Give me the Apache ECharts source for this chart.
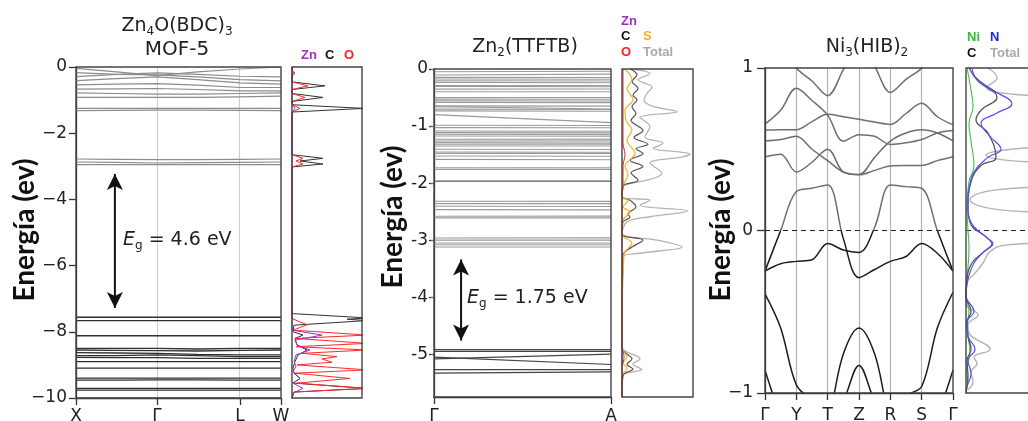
<!DOCTYPE html>
<html><head><meta charset="utf-8">
<script src="https://cdn.jsdelivr.net/npm/echarts@6/dist/echarts.min.js"></script>
<style>html,body{margin:0;padding:0;background:#fff}#c{width:1028px;height:421px}</style>
</head><body><div id="c"></div><script>
// ---------------- Panel 1 : Zn4O(BDC)3 / MOF-5 ----------------
const K1 = [0, 0.5, 1, 1.5, 2.025, 2.53];            // X, mid, Γ, mid, L, W
const K1_TICKS = [0, 1, 2.025, 2.53];
const K1_LABELS = ['X', 'Γ', 'L', 'W'];
const P1_COND = [
  [-0.04, -0.15, -0.26, -0.15, -0.06, 0.0],
  [-0.29, -0.22, -0.18, -0.22, -0.28, -0.30],
  [-0.17, -0.22, -0.24, -0.30, -0.38, -0.42],
  [-0.41, -0.35, -0.30, -0.38, -0.48, -0.52],
  [-0.54, -0.52, -0.50, -0.55, -0.62, -0.62],
  [-0.67, -0.66, -0.65, -0.68, -0.72, -0.72],
  [-0.78, -0.80, -0.82, -0.82, -0.80, -0.78],
  [-0.92, -0.92, -0.92, -0.92, -0.90, -0.88],
  [-1.25, -1.25, -1.25, -1.25, -1.25, -1.25],
  [-1.32, -1.31, -1.30, -1.30, -1.31, -1.32],
  [-2.78, -2.79, -2.80, -2.80, -2.79, -2.78],
  [-2.87, -2.88, -2.90, -2.89, -2.88, -2.87],
  [-2.95, -2.95, -2.95, -2.95, -2.95, -2.95]
];
const P1_VAL = [
  [-7.56, -7.56, -7.56, -7.56, -7.56, -7.56],
  [-7.66, -7.66, -7.66, -7.66, -7.66, -7.66],
  [-8.12, -8.12, -8.12, -8.12, -8.12, -8.12],
  [-8.50, -8.50, -8.50, -8.52, -8.50, -8.50],
  [-8.55, -8.56, -8.57, -8.58, -8.56, -8.55],
  [-8.63, -8.64, -8.65, -8.68, -8.70, -8.70],
  [-8.72, -8.72, -8.70, -8.72, -8.75, -8.75],
  [-8.77, -8.78, -8.78, -8.80, -8.80, -8.80],
  [-8.90, -8.90, -8.90, -8.90, -8.90, -8.90],
  [-9.10, -9.10, -9.10, -9.10, -9.10, -9.10],
  [-9.40, -9.40, -9.40, -9.40, -9.40, -9.40],
  [-9.46, -9.46, -9.45, -9.45, -9.46, -9.46],
  [-9.71, -9.71, -9.71, -9.71, -9.71, -9.71],
  [-9.76, -9.76, -9.76, -9.76, -9.76, -9.76]
];
const P1_ARROW = { k: 0.48, top: -3.23, bottom: -7.28 };
// DOS panel 1  [dos, energy]
const DOS1_C = [[0,0],[0,-0.45],[33,-0.57],[0,-0.68],[0,-0.8],[31,-0.92],[0,-1.04],[0,-1.14],[72,-1.25],[0,-1.36],[0,-2.65],[31,-2.76],[8,-2.84],[31,-2.93],[0,-3.02],[0,-7.45],[75,-7.58],[55,-7.62],[75,-7.66],[2,-7.8],[1,-8.0],[11,-8.1],[3,-8.2],[5,-8.4],[15,-8.55],[6,-8.7],[3,-8.9],[1,-9.1],[2,-9.25],[8,-9.41],[1,-9.55],[75,-9.71],[2,-9.82],[0,-10]];
const DOS1_O = [[0,0],[0,-0.1],[3,-0.19],[0,-0.28],[0,-0.45],[16,-0.57],[0,-0.68],[0,-0.8],[13,-0.92],[0,-1.04],[0,-1.14],[8,-1.25],[0,-1.36],[0,-2.65],[11,-2.76],[4,-2.84],[11,-2.93],[0,-3.02],[0,-7.6],[15,-7.79],[1,-7.95],[75,-8.1],[3,-8.2],[75,-8.35],[4,-8.45],[75,-8.55],[10,-8.65],[45,-8.75],[30,-8.82],[40,-8.92],[5,-9.0],[75,-9.15],[3,-9.25],[58,-9.41],[5,-9.55],[75,-9.71],[2,-9.82],[0,-10]];
const DOS1_ZN = [[0,0],[0,-0.1],[2,-0.19],[0,-0.28],[0,-1.14],[3,-1.25],[0,-1.36],[0,-7.95],[30,-8.1],[3,-8.25],[5,-8.4],[18,-8.55],[4,-8.7],[2,-8.9],[4,-9.05],[1,-9.2],[8,-9.41],[1,-9.55],[11,-9.71],[1,-9.85],[0,-10]];

// ---------------- Panel 2 : Zn2(TTFTB) ----------------
const K2 = [0, 1];
const P2_COND = [
  [-0.047,-0.04],[-0.106,-0.09],[-0.147,-0.15],[-0.176,-0.18],[-0.205,-0.21],[-0.235,-0.24],
  [-0.29,-0.29],[-0.305,-0.31],[-0.352,-0.35],[-0.399,-0.40],[-0.499,-0.50],[-0.528,-0.53],
  [-0.558,-0.56],[-0.587,-0.59],[-0.646,-0.65],[-0.66,-0.70],[-0.704,-0.71],[-0.734,-0.74],
  [-0.80,-0.94],[-0.986,-0.99],[-1.027,-1.03],[-1.086,-1.09],[-1.115,-1.12],[-1.144,-1.15],
  [-1.174,-1.18],[-1.232,-1.23],[-1.262,-1.26],[-1.291,-1.30],[-1.32,-1.32],[-1.35,-1.35],
  [-1.408,-1.41],[-1.455,-1.46],[-1.479,-1.48],[-1.526,-1.53],[-1.585,-1.59],[-1.73,-1.73],
  [-1.76,-1.76],[-2.318,-2.32],[-2.36,-2.36],[-2.406,-2.41],[-2.465,-2.47],[-2.582,-2.58],
  [-2.61,-2.61],[-2.963,-2.96],[-3.0,-3.0],[-3.05,-3.05],[-3.08,-3.08],[-3.12,-3.12]
];
const P2_DARK = [[-1.966,-1.966]];
const P2_VAL = [[-4.92,-4.92],[-4.95,-4.95],[-5.08,-5.0],[-5.05,-5.18],[-5.27,-5.27],[-5.33,-5.31]];
const P2_TICKS = [0, -1, -2, -3, -4, -5];
const P2_ARROW = { k: 0.153, top: -3.34, bottom: -4.76 };
const DOS2_TOTAL = [[8,0],[28,-0.08],[16,-0.19],[30,-0.32],[25,-0.43],[22,-0.55],[30,-0.65],[55,-0.75],[18,-0.85],[28,-1.01],[23,-1.19],[41,-1.30],[31,-1.39],[68,-1.49],[61,-1.54],[28,-1.65],[40,-1.83],[25,-1.95],[10,-2.0],[1,-2.06],[0,-2.24],[28,-2.30],[18,-2.39],[66,-2.49],[28,-2.59],[5,-2.68],[0,-2.88],[38,-3.01],[60,-3.12],[18,-3.23],[1,-3.29],[0,-4.87],[18,-5.08],[11,-5.17],[20,-5.27],[1,-5.37],[0,-5.75]];
const DOS2_C = [[8,0],[15,-0.1],[10,-0.22],[16,-0.34],[11,-0.46],[15,-0.54],[10,-0.66],[14,-0.78],[9,-0.9],[21,-1.08],[12,-1.2],[26,-1.32],[14,-1.4],[21,-1.48],[8,-1.6],[21,-1.71],[9,-1.82],[16,-1.95],[1,-2.05],[0,-2.24],[8,-2.3],[14,-2.42],[6,-2.54],[8,-2.6],[1,-2.68],[0,-2.9],[21,-3.0],[10,-3.12],[1,-3.27],[0,-4.9],[10,-5.08],[5,-5.18],[11,-5.26],[1,-5.37],[0,-5.75]];
const DOS2_S = [[3,0],[10,-0.19],[5,-0.34],[11,-0.54],[3,-0.72],[4,-0.9],[10,-1.07],[5,-1.25],[13,-1.48],[3,-1.7],[6,-1.85],[1,-2.05],[0,-2.24],[6,-2.30],[1,-2.42],[8,-2.5],[1,-2.65],[0,-2.9],[10,-3.05],[2,-3.25],[0,-4.9],[5,-5.05],[1,-5.15],[5,-5.25],[0,-5.37],[0,-5.75]];
const DOS2_O = [[1,0],[1,-1.3],[3,-1.5],[1,-1.7],[1,-2.1],[0,-2.2],[0,-5.75]];
const DOS2_ZN = [[0,-4.9],[2,-5.05],[0,-5.2]];

// ---------------- Panel 3 : Ni3(HIB)2 ----------------
const K3 = [0, 0.5, 1, 1.5, 2, 2.5, 3, 3.5, 4, 4.5, 5, 5.5, 6];
const K3_LABELS = ['Γ', 'Y', 'T', 'Z', 'R', 'S', 'Γ'];
const P3_BANDS = [
  [1.40, 1.15, 1.00, 0.92, 0.83, 0.99, 1.15, 1.01, 0.85, 0.93, 1.00, 1.15, 1.40],
  [0.655, 0.74, 0.875, 0.80, 0.71, 0.55, 0.59, 0.58, 0.53, 0.54, 0.56, 0.60, 0.615],
  [0.618, 0.62, 0.62, 0.67, 0.715, 0.70, 0.684, 0.668, 0.653, 0.72, 0.783, 0.70, 0.65],
  [0.551, 0.56, 0.58, 0.50, 0.43, 0.36, 0.345, 0.45, 0.55, 0.60, 0.62, 0.60, 0.551],
  [0.454, 0.47, 0.36, 0.42, 0.50, 0.36, 0.343, 0.37, 0.397, 0.40, 0.40, 0.43, 0.454],
  [-0.25, 0.0, 0.24, 0.26, 0.28, -0.05, -0.29, -0.24, -0.19, -0.16, -0.08, -0.14, -0.25],
  [-0.25, -0.205, -0.19, -0.18, -0.08, -0.12, -0.135, 0.02, 0.28, 0.27, 0.26, 0.0, -0.25],
  [-0.39, -0.60, -0.95, -1.05, -1.2, -1.3, -1.35, -1.3, -1.2, -1.02, -0.96, -0.60, -0.38],
  [-1.5, -1.4, -1.3, -1.25, -1.15, -0.76, -0.60, -0.76, -1.15, -1.25, -1.3, -1.4, -1.5],
  [-1.5, -1.4, -1.3, -1.25, -1.2, -1.05, -0.83, -1.05, -1.2, -1.25, -1.3, -1.4, -1.5],
  [-0.86, -1.15, -1.4, -1.5, -1.5, -1.5, -1.5, -1.5, -1.5, -1.5, -1.4, -1.15, -0.86]
];
const DOS3_TOTAL = [[22,1.0],[31,0.94],[21,0.88],[45,0.84],[150,0.80],[150,0.56],[45,0.50],[20,0.465],[45,0.43],[150,0.39],[150,0.30],[30,0.25],[4,0.19],[30,0.13],[150,0.08],[150,-0.05],[40,-0.09],[24,-0.13],[17,-0.2],[8,-0.27],[1,-0.32],[0,-0.45],[12,-0.52],[2,-0.58],[3,-0.63],[24,-0.73],[8,-0.78],[11,-0.82],[5,-0.87],[7,-0.93],[2,-0.98]];
const DOS3_N = [[6,1.0],[10,0.94],[28,0.86],[46,0.78],[30,0.72],[15,0.66],[24,0.58],[35,0.50],[22,0.45],[8,0.36],[3,0.25],[2,0.15],[5,0.05],[22,-0.05],[27,-0.08],[18,-0.13],[8,-0.2],[2,-0.3],[0,-0.4],[8,-0.5],[1,-0.56],[2,-0.65],[9,-0.73],[2,-0.8],[5,-0.88],[1,-0.95]];
const DOS3_C = [[3,1.0],[12,0.92],[31,0.82],[15,0.74],[10,0.68],[22,0.60],[30,0.45],[15,0.40],[5,0.3],[2,0.15],[4,0.05],[22,-0.05],[26,-0.08],[18,-0.13],[6,-0.2],[1,-0.3],[0,-0.4],[5,-0.5],[1,-0.56],[2,-0.65],[5,-0.73],[1,-0.8],[2,-0.9],[0,-1.0]];
const DOS3_NI = [[1,1.0],[4,0.9],[7,0.76],[3,0.66],[5,0.55],[8,0.40],[3,0.30],[1,0.15],[2,0.0],[3,-0.1],[1,-0.3],[0,-0.4],[3,-0.5],[1,-0.6],[4,-0.75],[1,-0.85],[2,-0.95]];

// ---------------- build ----------------
const FONT = 'DejaVu Sans, Liberation Sans, sans-serif';
const LFONT = 'Liberation Sans, Arial, sans-serif';
const AX = '#333';
const minus = v => (v < 0 ? '\u2212' + Math.abs(v) : String(v));

const GRIDS = [
  { left: 76, top: 67, width: 205, height: 331 },
  { left: 292, top: 67, width: 70, height: 331 },
  { left: 434, top: 69, width: 177, height: 328 },
  { left: 622, top: 69, width: 71, height: 328 },
  { left: 765, top: 68, width: 188, height: 325 },
  { left: 966, top: 68, width: 100, height: 325 }
];
const grids = GRIDS.map(g => Object.assign({ show: true, z: 4, containLabel: false, outerBoundsMode: 'none',
  borderColor: '#444', borderWidth: 1.4, backgroundColor: 'transparent' }, g));

const lblBase = { fontFamily: FONT, fontSize: 17, color: '#222' };
const xLine = { onZero: false, lineStyle: { color: AX, width: 1.3 } };
const xAxes = [
  { gridIndex: 0, type: 'value', min: 0, max: 2.53, splitLine: { show: false }, axisLine: xLine,
    axisTick: { customValues: K1_TICKS, length: 7, lineStyle: { color: AX, width: 1.3 } },
    axisLabel: Object.assign({ customValues: K1_TICKS, margin: 10, formatter: v => K1_LABELS[K1_TICKS.indexOf(v)] || '' }, lblBase) },
  { gridIndex: 1, type: 'value', min: 0, max: 70, show: false },
  { gridIndex: 2, type: 'value', min: 0, max: 1, splitLine: { show: false }, axisLine: xLine,
    axisTick: { customValues: [0, 1], length: 7, lineStyle: { color: AX, width: 1.3 } },
    axisLabel: Object.assign({ customValues: [0, 1], margin: 11, formatter: v => (v === 0 ? 'Γ' : 'A') }, lblBase) },
  { gridIndex: 3, type: 'value', min: 0, max: 71, show: false },
  { gridIndex: 4, type: 'value', min: 0, max: 6, interval: 1, splitLine: { show: false }, axisLine: xLine,
    axisTick: { length: 7, lineStyle: { color: AX, width: 1.3 } },
    axisLabel: Object.assign({ margin: 14, formatter: v => K3_LABELS[Math.round(v)] }, lblBase) },
  { gridIndex: 5, type: 'value', min: 0, max: 100, show: false }
];
const yAxes = [
  { gridIndex: 0, type: 'value', min: -10, max: 0, interval: 2, splitLine: { show: false },
    axisLine: { onZero: false, lineStyle: { color: AX, width: 1.3 } },
    axisTick: { length: 7, lineStyle: { color: AX, width: 1.3 } },
    axisLabel: Object.assign({ margin: 9, formatter: minus }, lblBase) },
  { gridIndex: 1, type: 'value', min: -10, max: 0, show: false },
  { gridIndex: 2, type: 'value', min: -5.75, max: 0, splitLine: { show: false },
    axisLine: { onZero: false, lineStyle: { color: AX, width: 1.3 } },
    axisTick: { customValues: P2_TICKS, length: 5, lineStyle: { color: AX, width: 1.3 } },
    axisLabel: Object.assign({ customValues: P2_TICKS, margin: 6 }, lblBase) },
  { gridIndex: 3, type: 'value', min: -5.75, max: 0, show: false },
  { gridIndex: 4, type: 'value', min: -1, max: 1, interval: 1, splitLine: { show: false },
    axisLine: { onZero: false, lineStyle: { color: AX, width: 1.3 } },
    axisTick: { length: 8, lineStyle: { color: AX, width: 1.3 } },
    axisLabel: Object.assign({ margin: 12, formatter: minus }, lblBase) },
  { gridIndex: 5, type: 'value', min: -1, max: 1, show: false },
  { gridIndex: 2, type: 'value', min: -5.75, max: 0, position: 'right', splitLine: { show: false },
    axisLine: { show: false }, axisLabel: { show: false },
    axisTick: { inside: true, customValues: P2_TICKS, length: 3, lineStyle: { color: '#777', width: 1 } } }
];

const series = [];
function band(ai, ks, vals, color, width, extra) {
  series.push(Object.assign({ type: 'line', xAxisIndex: ai, yAxisIndex: ai, symbol: 'none', silent: true, clip: true,
    data: ks.map((k, i) => [k, vals[i]]), lineStyle: { color: color, width: width } }, extra || {}));
}
function dos(ai, pts, color, width, smooth, extra) {
  series.push(Object.assign({ type: 'line', xAxisIndex: ai, yAxisIndex: ai, symbol: 'none', silent: true, clip: true,
    smooth: smooth, data: pts, lineStyle: { color: color, width: width } }, extra || {}));
}
function arrow(ai, a) {
  series.push({ type: 'line', xAxisIndex: ai, yAxisIndex: ai, silent: true, clip: false, z: 5,
    lineStyle: { color: '#111', width: 2 }, itemStyle: { color: '#111' },
    showSymbol: true, symbol: 'arrow', symbolSize: [12, 16],
    data: [{ value: [a.k, a.top], symbolRotate: 0 }, { value: [a.k, a.bottom], symbolRotate: 180 }] });
}
const mark = (data, color, type, z) => ({ silent: true, symbol: 'none', label: { show: false }, z: z || 1,
  lineStyle: { color: color, width: 1.2, type: type }, data: data });

// panel 1
P1_COND.forEach((b, i) => band(0, K1, b, '#8c8c8c', 1.2,
  i === 0 ? { markLine: mark([{ xAxis: 1 }, { xAxis: 2.025 }], '#cfcfcf', 'solid') } : null));
P1_VAL.forEach(b => band(0, K1, b, '#303030', 1.3));
arrow(0, P1_ARROW);
dos(1, DOS1_C, '#333', 1, false);
dos(1, DOS1_O, '#ff2a2a', 1, false);
dos(1, DOS1_ZN, '#a030c0', 1, false);
// panel 2
P2_COND.forEach(b => band(2, K2, b, '#9a9a9a', 1.1));
P2_DARK.forEach(b => band(2, K2, b, '#555', 1.3));
P2_VAL.forEach(b => band(2, K2, b, '#444', 1.2));
arrow(2, P2_ARROW);
dos(3, DOS2_TOTAL, '#b4b4b4', 1.3, 0.35);
dos(3, DOS2_C, '#555', 1.2, 0.35);
dos(3, DOS2_S, '#f6b21c', 1.2, 0.35);
dos(3, DOS2_O, '#e02020', 1, 0.35);
dos(3, DOS2_ZN, '#a030c0', 1, 0.35);
// panel 3 : bands grey above E=0, black below (gradient in screen space)
const g3 = GRIDS[4];
const splitColor = (up, down) => ({ type: 'linear', global: true, x: 0, y: g3.top, x2: 0, y2: g3.top + g3.height,
  colorStops: [{ offset: 0, color: up }, { offset: 0.499, color: up }, { offset: 0.501, color: down }, { offset: 1, color: down }] });
P3_BANDS.forEach((b, i) => band(4, K3, b, splitColor('#6e6e6e', '#1c1c1c'), 1.5, Object.assign({ smooth: 0.35 },
  i === 0 ? { markLine: mark([1, 2, 3, 4, 5].map(v => ({ xAxis: v })), '#b4b4b4', 'solid') } : {},
  i === 1 ? { markLine: mark([{ yAxis: 0 }], '#222', [5, 4], 3) } : {})));
dos(5, DOS3_TOTAL, '#b4b4b4', 1.4, 0.45);
dos(5, DOS3_NI, '#3cc43c', 1.1, 0.45);
dos(5, DOS3_C, '#555', 1.3, 0.45);
dos(5, DOS3_N, '#5050ff', 1.2, 0.45, { markLine: mark([{ yAxis: 0 }], '#222', [5, 4], 3) });

// ---------------- texts ----------------
const T = (x, y, text, opts) => ({ type: 'text', x: x, y: y, silent: true, z: 10,
  style: Object.assign({ text: text, fontFamily: FONT, fontSize: 19, fill: '#222', align: 'center', verticalAlign: 'middle' }, opts || {}) });
const subRich = { a: { fontFamily: FONT, fontSize: 19, fill: '#222' }, s: { fontFamily: FONT, fontSize: 12, fill: '#222', padding: [12, 0, 0, 0] },
  i: { fontFamily: FONT, fontSize: 19, fontStyle: 'italic', fill: '#222' } };
const yName = (x, y) => ({ type: 'text', x: x, y: y, rotation: Math.PI / 2, silent: true, z: 10,
  style: { text: 'Energía (ev)', fontFamily: 'Lato, Open Sans, sans-serif', fontWeight: 'bold', fontSize: 28, fill: '#111', align: 'center', verticalAlign: 'middle' } });
const L = (x, y, text, color) => T(x, y, text, { fontFamily: LFONT, fontSize: 13, fontWeight: 'bold', fill: color, align: 'left' });

const graphic = [
  T(177, 26, '{a|Zn}{s|4}{a|O(BDC)}{s|3}', { rich: subRich }),
  T(177, 50, 'MOF-5', { fontSize: 20 }),
  T(525, 47, '{a|Zn}{s|2}{a|(TTFTB)}', { rich: subRich }),
  T(867, 47, '{a|Ni}{s|3}{a|(HIB)}{s|2}', { rich: subRich }),
  T(123, 240, '{i|E}{s|g}{a| = 4.6 eV}', { rich: subRich, align: 'left' }),
  T(467, 298, '{i|E}{s|g}{a| = 1.75 eV}', { rich: subRich, align: 'left' }),
  yName(25, 230), yName(393, 217), yName(721, 230),
  L(301, 55, 'Zn', '#a030c0'), L(325, 55, 'C', '#111'), L(344, 55, 'O', '#ff2020'),
  L(621, 21, 'Zn', '#a030c0'), L(621, 36, 'C', '#111'), L(643, 36, 'S', '#f6b21c'),
  L(621, 52, 'O', '#ff2020'), L(643, 52, 'Total', '#aaa'),
  L(967, 37, 'Ni', '#2ec02e'), L(990, 37, 'N', '#2020ff'),
  L(967, 53, 'C', '#111'), L(990, 53, 'Total', '#aaa')
];

const chart = echarts.init(document.getElementById('c'), null, { renderer: 'canvas' });
chart.setOption({ animation: false, grid: grids, xAxis: xAxes, yAxis: yAxes, series: series, graphic: graphic });
</script></body></html>
